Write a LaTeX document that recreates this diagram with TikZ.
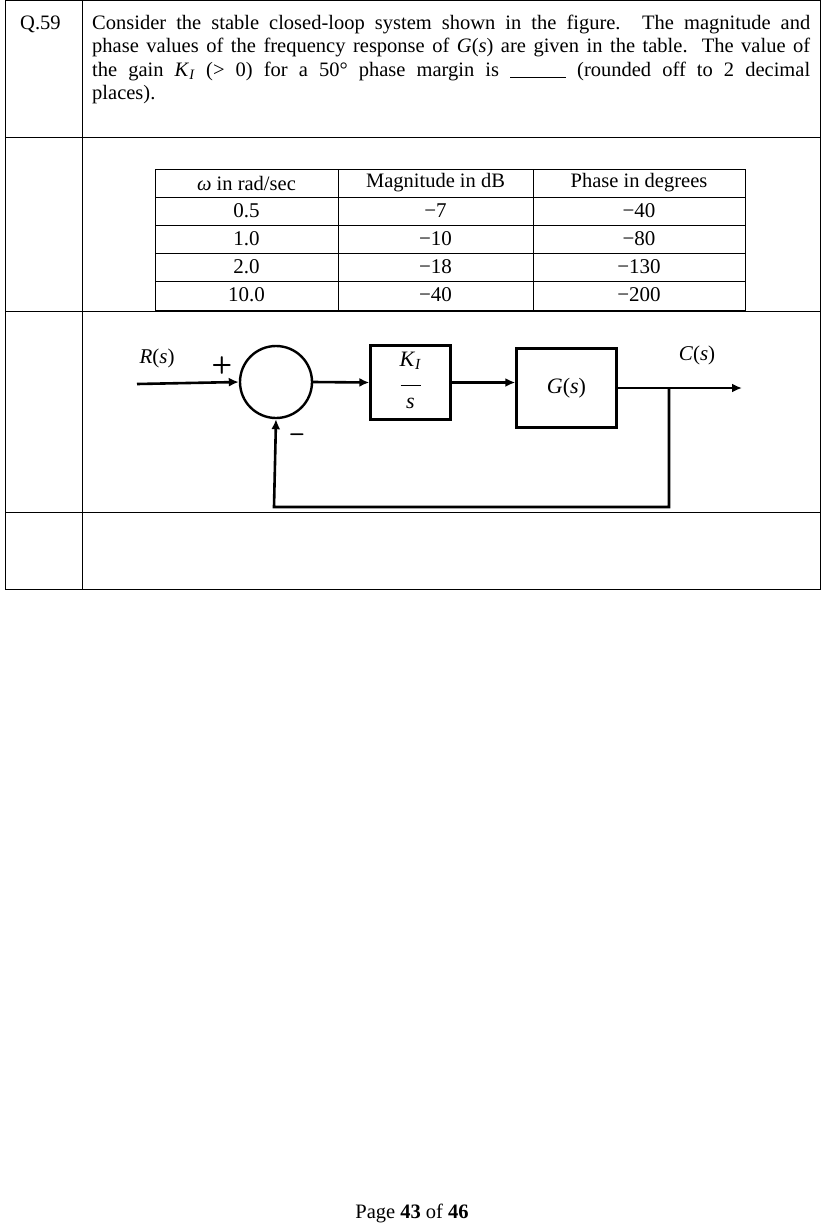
\documentclass[tikz,border=0pt]{standalone}
\usepackage{fontspec}
\setmainfont{Liberation Serif}
\usetikzlibrary{arrows.meta}
\newcommand{\mi}[1]{\textit{#1}}
\begin{document}
\begin{tikzpicture}[x=1pt,y=-1pt,
  ln/.style={line width=1pt},
  sig/.style={line width=2.6pt,-{Latex[length=10pt,width=9pt]}},
  blk/.style={draw,line width=2.4pt},
  tx/.style={font=\fontsize{20.5}{24}\selectfont,inner sep=0pt},
  mt/.style={font=\fontsize{21}{24}\selectfont,inner sep=0pt}]
\useasboundingbox (0,0) rectangle (830,1229);
% outer table
\draw[ln] (5,0) rectangle (820,589);
\draw[ln] (5,137)--(820,137) (5,311)--(820,311) (5,512)--(820,512) (82,0)--(82,589);
\node[tx,anchor=north west] (q) at (20,16) {Q.59};
\node[anchor=north west,inner sep=0pt,text width=718pt,align=justify,font=\fontsize{20.5}{23.3}\selectfont] (p) at (92,15)
{Consider the stable closed-loop system shown in the figure. The magnitude and\linebreak
phase values of the frequency response of \mi{G}(\mi{s}) are given in the table. The value of\linebreak
the gain \mi{K}\textsubscript{\mi{I}} (> 0) for a 50° phase margin is \rule[-1pt]{56pt}{0.6pt} (rounded off to 2 decimal\linebreak
places).};
% inner table
\draw[ln] (155,169) rectangle (745,310);
\foreach \y in {197,225,253,281} \draw[ln] (155,\y)--(745,\y);
\draw[ln] (338,169)--(338,310) (533,169)--(533,310);
\node[tx] (h1) at (246.5,183) {\mi{ω} in rad/sec};
\node[tx] (h2) at (435.5,183) {Magnitude in dB};
\node[tx] (h3) at (639,183) {Phase in degrees};
\foreach \w/\m/\p [count=\i] in {0.5/7/40,1.0/10/80,2.0/18/130,10.0/40/200}{
  \node[mt] at (246.5,183+28*\i) {\w};
  \node[mt] at (435.5,183+28*\i) {−\m};
  \node[mt] at (639,183+28*\i) {−\p};
}
% block diagram
\coordinate (rin) at (137,384);
\node[draw,circle,line width=2.4pt,minimum size=72pt,inner sep=0pt] (sum) at (276,382) {};
\node[blk,minimum width=80pt,minimum height=74pt,inner sep=0pt] (k) at (410.5,382.5)
  {\fontsize{22}{24}\selectfont\begin{tabular}{@{}c@{}}\mi{K}\textsubscript{\mi{I}}\\[-4pt]\rule{20pt}{1pt}\\[-2pt]\mi{s}\end{tabular}};
\node[blk,minimum width=100pt,minimum height=79pt,inner sep=0pt] (g) at (566.5,388) {\fontsize{22}{24}\selectfont\mi{G}(\mi{s})};
\coordinate (out) at (742,388);
\coordinate (br) at (669,388);
\coordinate (fb1) at (669,507);
\coordinate (fb2) at (274,507);
\draw[sig] (rin) -- (sum.west);
\draw[sig] (sum.east) -- (k.west);
\draw[sig] (k.east) -- (g.west |- k.east);
\draw[sig] (g.east) -- (out);
\draw[sig] (br) -- (fb1) -- (fb2) -- (sum.south);
\node[mt] (R) at (157,358) {\mi{R}(\mi{s})};
\node[mt] (C) at (697,355) {\mi{C}(\mi{s})};
\node[font=\sffamily\bfseries\fontsize{24}{26}\selectfont,inner sep=0pt] (plus) at (222,365) {+};
\node[font=\sffamily\bfseries\fontsize{24}{26}\selectfont,inner sep=0pt] (minus) at (297,438) {--};
\node[tx] (pg) at (412,1213) {Page \textbf{43} of \textbf{46}};
\end{tikzpicture}
\end{document}
